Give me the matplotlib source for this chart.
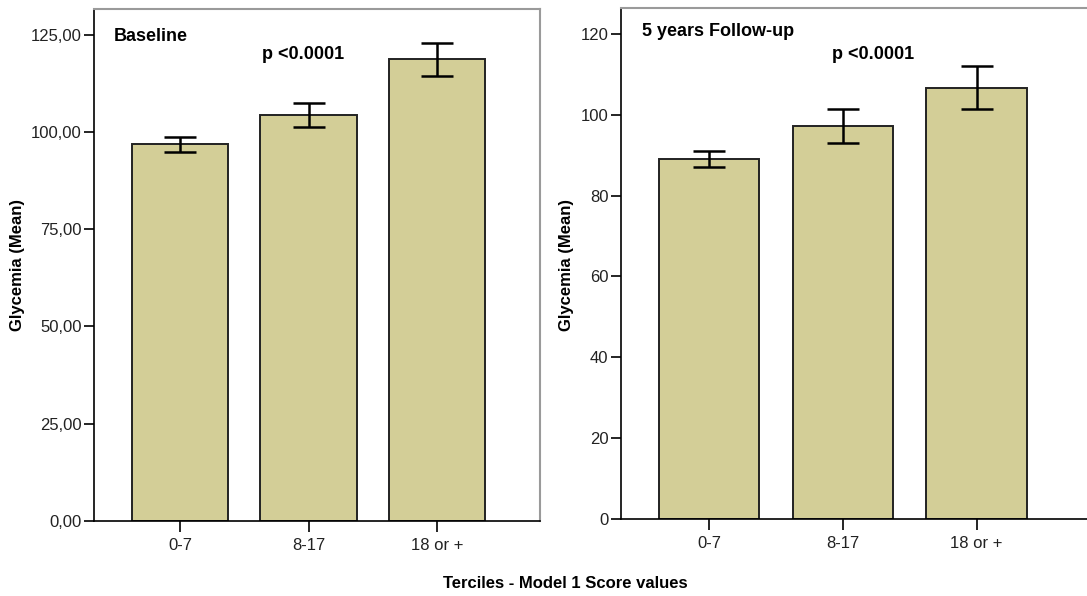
import matplotlib
matplotlib.use("Agg")
import matplotlib.pyplot as plt
from matplotlib.ticker import FuncFormatter

plt.rcParams['font.family'] = ['Liberation Sans Narrow', 'Liberation Sans', 'DejaVu Sans']

categories = ["0-7", "8-17", "18 or +"]
baseline_mean = [96.8, 104.4, 118.7]
baseline_lo = [94.9, 101.3, 114.5]
baseline_hi = [98.7, 107.5, 122.8]
follow_mean = [89.0, 97.3, 106.7]
follow_lo = [87.1, 93.0, 101.4]
follow_hi = [91.0, 101.4, 112.1]
baseline_yticks = [0, 25, 50, 75, 100, 125]
follow_yticks = [0, 20, 40, 60, 80, 100, 120]

W, H = 1087, 596
fig = plt.figure(figsize=(W / 100, H / 100), dpi=100)

def fx(px):
    return px / W

def fy(py):
    return 1 - py / H

bar_color = '#d3ce97'
edge_color = '#222222'

def panel(rect, means, lo, hi, yticks, ylim, xlim, fmt, title, title_y, ptext_x, ptext_y):
    ax = fig.add_axes(rect)
    x = list(range(len(categories)))
    ax.bar(x, means, width=0.75, color=bar_color, edgecolor=edge_color, linewidth=1.4, zorder=2)
    yerr = [[m - l for m, l in zip(means, lo)], [h - m for m, h in zip(means, hi)]]
    ax.errorbar(x, means, yerr=yerr, fmt='none', ecolor='black', elinewidth=1.8,
                capsize=11.5, capthick=1.8, zorder=3)
    ax.set_xlim(*xlim)
    ax.set_ylim(*ylim)
    ax.set_xticks(x)
    ax.set_xticklabels(categories)
    ax.set_yticks(yticks)
    ax.yaxis.set_major_formatter(FuncFormatter(fmt))
    for s in ['left', 'bottom']:
        ax.spines[s].set_color('black')
        ax.spines[s].set_linewidth(1.2)
    for s in ['top', 'right']:
        ax.spines[s].set_color('#9a9a9a')
        ax.spines[s].set_linewidth(1.5)
    ax.tick_params(axis='y', direction='out', length=7, width=1.2, color='black',
                   labelsize=12, labelcolor='#222222', pad=2)
    ax.tick_params(axis='x', direction='out', length=8, width=1.2, color='black',
                   labelsize=12, labelcolor='#222222', pad=4)
    ax.text(0.045, title_y, title, transform=ax.transAxes,
            fontsize=13, fontweight='bold', ha='left', va='top')
    ax.text(ptext_x, ptext_y, 'p <0.0001', transform=ax.transAxes,
            fontsize=13, fontweight='bold', ha='center', va='top')
    return ax

ax1 = panel([fx(94), fy(521), fx(540) - fx(94), fy(9) - fy(521)],
            baseline_mean, baseline_lo, baseline_hi, baseline_yticks, (0, 131.6),
            (-0.67, 2.80), lambda v, p: f"{v:.2f}".replace('.', ','), 'Baseline', 0.963,
            (303 - 94) / (540 - 94), 0.928)

ax2 = panel([fx(621), fy(519), fx(1095) - fx(621), fy(7.5) - fy(519)],
            follow_mean, follow_lo, follow_hi, follow_yticks, (0, 126.5),
            (-0.66, 2.886), lambda v, p: f"{v:.0f}", '5 years Follow-up', 0.970,
            (873 - 621) / (1095 - 621), 0.925)

fig.text(fx(18), fy(265), 'Glycemia (Mean)', rotation=90, ha='center', va='center',
         fontsize=12, fontweight='bold')
fig.text(fx(567), fy(265), 'Glycemia (Mean)', rotation=90, ha='center', va='center',
         fontsize=12, fontweight='bold')
fig.text(fx(565), fy(583), 'Terciles - Model 1 Score values', ha='center', va='center',
         fontsize=12, fontweight='bold')

fig.savefig('out.png', dpi=100)
